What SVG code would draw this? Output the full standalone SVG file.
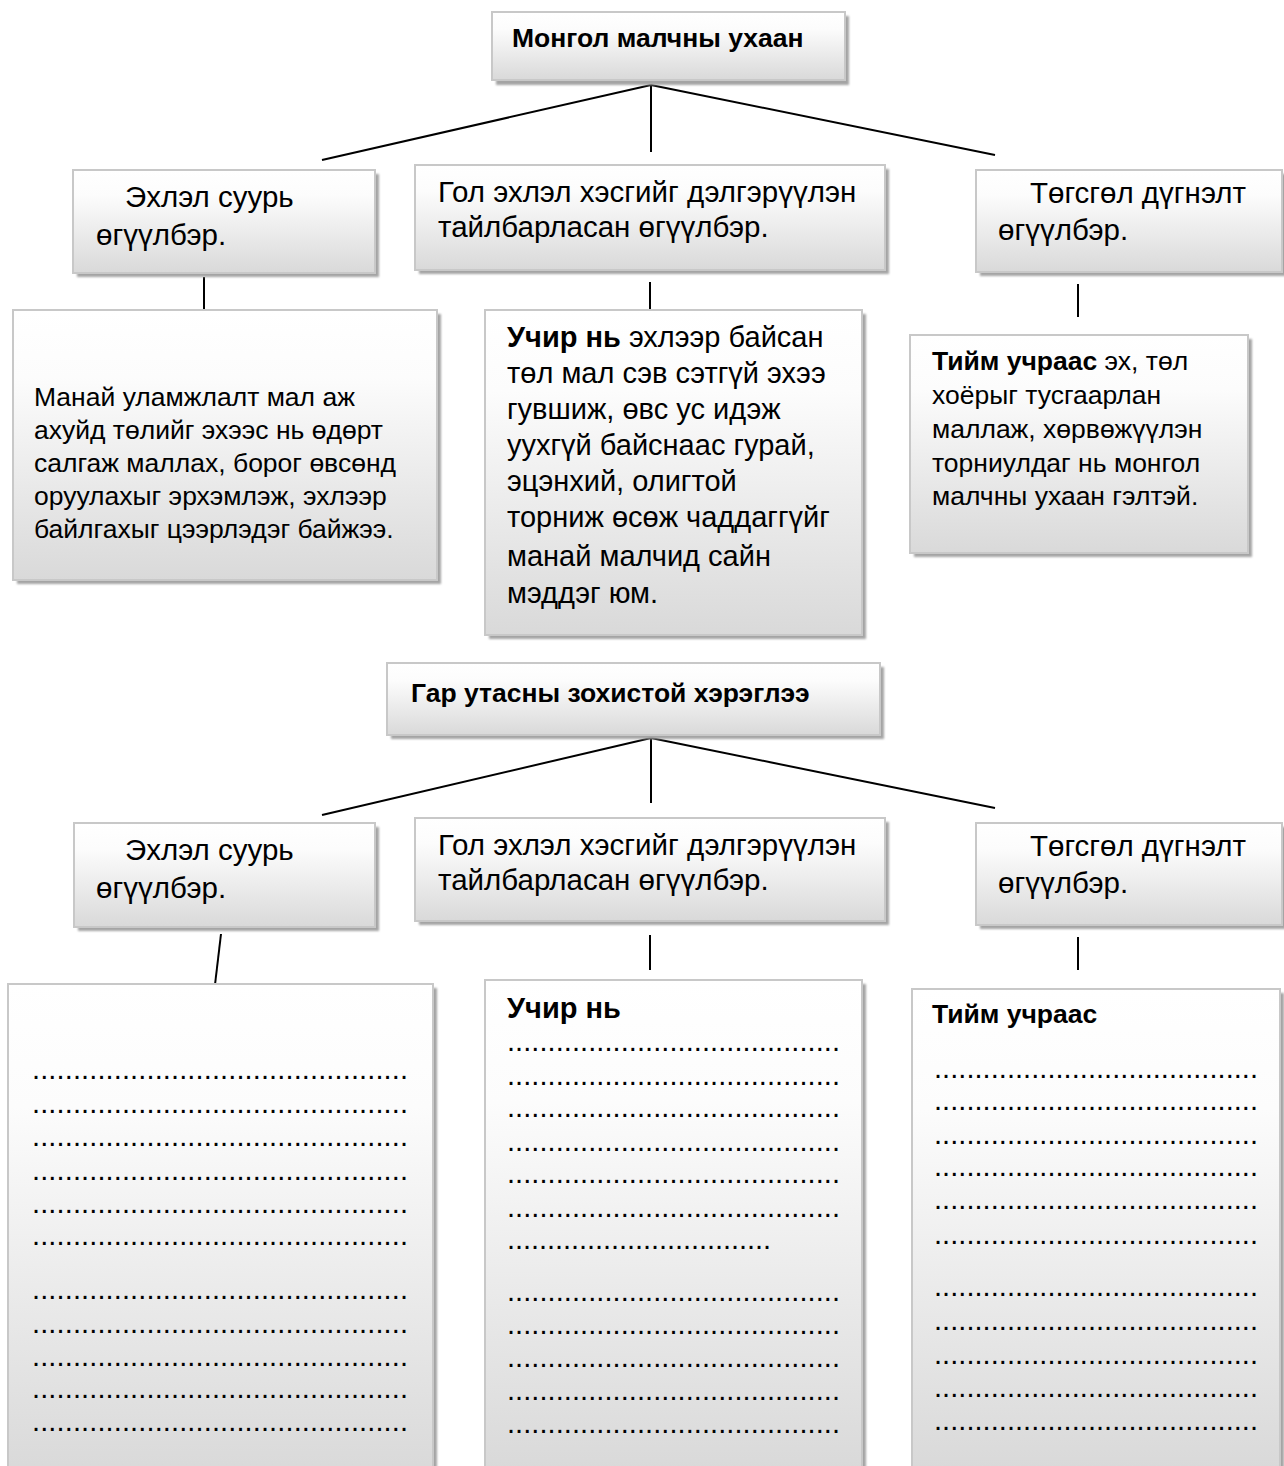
<svg xmlns="http://www.w3.org/2000/svg" width="1284" height="1466" viewBox="0 0 1284 1466">
<defs>
<linearGradient id="g" x1="0" y1="0" x2="0" y2="1">
<stop offset="0" stop-color="#ffffff"/>
<stop offset="0.25" stop-color="#fcfcfc"/>
<stop offset="1" stop-color="#d9d9d9"/>
</linearGradient>
<filter id="blur" x="-5%" y="-5%" width="110%" height="110%"><feGaussianBlur stdDeviation="0.8"/></filter>
</defs>
<style>
.sh{fill:#a4a4a4;filter:url(#blur)}
.bx{fill:url(#g);stroke:#c8c8c8;stroke-width:2}
.t{font-family:"Liberation Sans",Arial,sans-serif;fill:#000}
.ti{font-size:26.5px;font-weight:bold}
.lb{font-size:29.5px}
.ct{font-size:26.5px}
.cm{font-size:29px}
.b{font-weight:bold}
.dt{font-size:29px}
.ln{stroke:#000;stroke-width:2;fill:none}
</style>
<rect width="1284" height="1466" fill="#fff"/>

<g id="connectors">
<line class="ln" x1="651" y1="85" x2="322" y2="160"/>
<line class="ln" x1="651" y1="85" x2="651" y2="152"/>
<line class="ln" x1="651" y1="85" x2="995" y2="155"/>
<line class="ln" x1="204" y1="277" x2="204" y2="310"/>
<line class="ln" x1="650" y1="282" x2="650" y2="318"/>
<line class="ln" x1="1078" y1="284" x2="1078" y2="317"/>
<line class="ln" x1="651" y1="738" x2="322" y2="815"/>
<line class="ln" x1="651" y1="738" x2="651" y2="803"/>
<line class="ln" x1="651" y1="738" x2="995" y2="808"/>
<line class="ln" x1="221" y1="934" x2="214" y2="993"/>
<line class="ln" x1="650" y1="935" x2="650" y2="970"/>
<line class="ln" x1="1078" y1="937" x2="1078" y2="970"/>
</g>

<g id="title1">
<rect class="sh" x="496" y="16" width="353" height="69"/>
<rect class="bx" x="492" y="12" width="353" height="68"/>
<text class="t ti" x="512" y="47">Монгол малчны ухаан</text>
</g>

<g id="intro1">
<rect class="sh" x="77" y="174" width="302" height="103"/>
<rect class="bx" x="73" y="170" width="302" height="103"/>
<text class="t lb" x="125" y="207">Эхлэл суурь</text>
<text class="t lb" x="96" y="245">өгүүлбэр.</text>
</g>

<g id="main1">
<rect class="sh" x="419" y="169" width="470" height="105"/>
<rect class="bx" x="415" y="165" width="470" height="105"/>
<text class="t lb" x="438" y="202">Гол эхлэл хэсгийг дэлгэрүүлэн</text>
<text class="t lb" x="438" y="237">тайлбарласан өгүүлбэр.</text>
</g>

<g id="concl1">
<rect class="sh" x="980" y="174" width="308" height="102"/>
<rect class="bx" x="976" y="170" width="306" height="102"/>
<text class="t lb" x="1030" y="203">Төгсгөл дүгнэлт</text>
<text class="t lb" x="998" y="240">өгүүлбэр.</text>
</g>

<g id="intro1text">
<rect class="sh" x="17" y="314" width="424" height="270"/>
<rect class="bx" x="13" y="310" width="424" height="270"/>
<text class="t ct" x="34" y="406">Манай уламжлалт мал аж</text>
<text class="t ct" x="34" y="439">ахуйд төлийг эхээс нь өдөрт</text>
<text class="t ct" x="34" y="472">салгаж маллах, борог өвсөнд</text>
<text class="t ct" x="34" y="505">оруулахыг эрхэмлэж, эхлээр</text>
<text class="t ct" x="34" y="538">байлгахыг цээрлэдэг байжээ.</text>
</g>

<g id="main1text">
<rect class="sh" x="489" y="314" width="377" height="325"/>
<rect class="bx" x="485" y="310" width="377" height="325"/>
<text class="t cm" x="507" y="347"><tspan class="b">Учир нь</tspan> эхлээр байсан</text>
<text class="t cm" x="507" y="383">төл мал сэв сэтгүй эхээ</text>
<text class="t cm" x="507" y="419">гувшиж, өвс ус идэж</text>
<text class="t cm" x="507" y="455">уухгүй байснаас гурай,</text>
<text class="t cm" x="507" y="491">эцэнхий, олигтой</text>
<text class="t cm" x="507" y="527">торниж өсөж чаддаггүйг</text>
<text class="t cm" x="507" y="566">манай малчид сайн</text>
<text class="t cm" x="507" y="603">мэддэг юм.</text>
</g>

<g id="concl1text">
<rect class="sh" x="914" y="339" width="338" height="218"/>
<rect class="bx" x="910" y="335" width="338" height="218"/>
<text class="t ct" x="932" y="370"><tspan class="b">Тийм учраас</tspan> эх, төл</text>
<text class="t ct" x="932" y="404">хоёрыг тусгаарлан</text>
<text class="t ct" x="932" y="438">маллаж, хөрвөжүүлэн</text>
<text class="t ct" x="932" y="472">торниулдаг нь монгол</text>
<text class="t ct" x="932" y="505">малчны ухаан гэлтэй.</text>
</g>

<g id="title2">
<rect class="sh" x="391" y="667" width="493" height="72"/>
<rect class="bx" x="387" y="663" width="493" height="72"/>
<text class="t ti" x="411" y="702">Гар утасны зохистой хэрэглээ</text>
</g>

<g id="intro2">
<rect class="sh" x="78" y="827" width="301" height="104"/>
<rect class="bx" x="74" y="823" width="301" height="104"/>
<text class="t lb" x="125" y="860">Эхлэл суурь</text>
<text class="t lb" x="96" y="898">өгүүлбэр.</text>
</g>

<g id="main2">
<rect class="sh" x="419" y="822" width="470" height="103"/>
<rect class="bx" x="415" y="818" width="470" height="103"/>
<text class="t lb" x="438" y="855">Гол эхлэл хэсгийг дэлгэрүүлэн</text>
<text class="t lb" x="438" y="890">тайлбарласан өгүүлбэр.</text>
</g>

<g id="concl2">
<rect class="sh" x="980" y="827" width="308" height="102"/>
<rect class="bx" x="976" y="823" width="306" height="102"/>
<text class="t lb" x="1030" y="856">Төгсгөл дүгнэлт</text>
<text class="t lb" x="998" y="893">өгүүлбэр.</text>
</g>

<g id="intro2text">
<rect class="sh" x="12" y="988" width="425" height="490"/>
<rect class="bx" x="8" y="984" width="425" height="490"/>
<g class="t dt">
<text x="32" y="1079" textLength="376">..............................................</text>
<text x="32" y="1113" textLength="376">..............................................</text>
<text x="32" y="1146" textLength="376">..............................................</text>
<text x="32" y="1180" textLength="376">..............................................</text>
<text x="32" y="1213" textLength="376">..............................................</text>
<text x="32" y="1245" textLength="376">..............................................</text>
<text x="32" y="1299" textLength="376">..............................................</text>
<text x="32" y="1333" textLength="376">..............................................</text>
<text x="32" y="1366" textLength="376">..............................................</text>
<text x="32" y="1398" textLength="376">..............................................</text>
<text x="32" y="1431" textLength="376">..............................................</text>
</g>
</g>

<g id="main2text">
<rect class="sh" x="489" y="984" width="377" height="490"/>
<rect class="bx" x="485" y="980" width="377" height="490"/>
<text class="t cm b" x="507" y="1018">Учир нь</text>
<g class="t dt">
<text x="507" y="1051" textLength="333">.........................................</text>
<text x="507" y="1085" textLength="333">.........................................</text>
<text x="507" y="1117" textLength="333">.........................................</text>
<text x="507" y="1151" textLength="333">.........................................</text>
<text x="507" y="1183" textLength="333">.........................................</text>
<text x="507" y="1217" textLength="333">.........................................</text>
<text x="507" y="1249" textLength="264">.................................</text>
<text x="507" y="1301" textLength="333">.........................................</text>
<text x="507" y="1334" textLength="333">.........................................</text>
<text x="507" y="1367" textLength="333">.........................................</text>
<text x="507" y="1400" textLength="333">.........................................</text>
<text x="507" y="1433" textLength="333">.........................................</text>
</g>
</g>

<g id="concl2text">
<rect class="sh" x="916" y="993" width="368" height="480"/>
<rect class="bx" x="912" y="989" width="368" height="480"/>
<text class="t ct b" x="932" y="1023">Тийм учраас</text>
<g class="t dt">
<text x="934" y="1078" textLength="324">........................................</text>
<text x="934" y="1110" textLength="324">........................................</text>
<text x="934" y="1144" textLength="324">........................................</text>
<text x="934" y="1176" textLength="324">........................................</text>
<text x="934" y="1209" textLength="324">........................................</text>
<text x="934" y="1244" textLength="324">........................................</text>
<text x="934" y="1296" textLength="324">........................................</text>
<text x="934" y="1330" textLength="324">........................................</text>
<text x="934" y="1364" textLength="324">........................................</text>
<text x="934" y="1397" textLength="324">........................................</text>
<text x="934" y="1430" textLength="324">........................................</text>
</g>
</g>
</svg>
